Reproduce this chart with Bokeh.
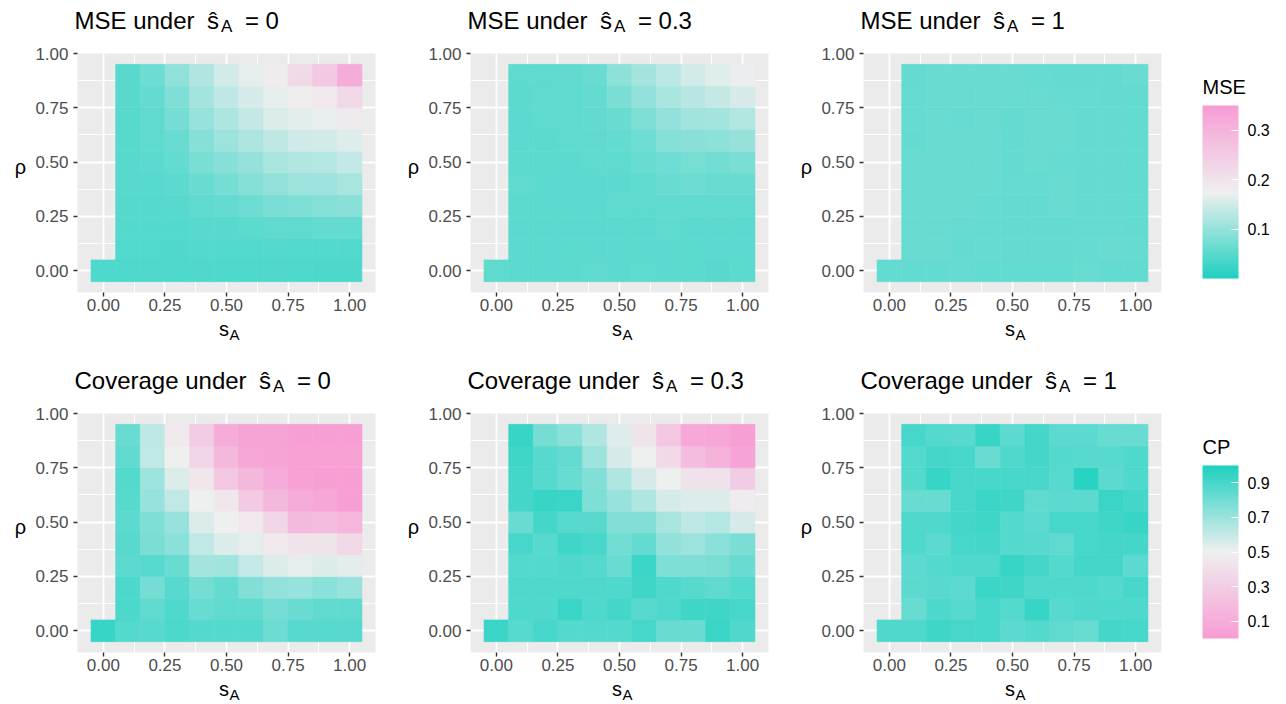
import numpy as np
from bokeh.plotting import figure
from bokeh.models import (ColumnDataSource, LinearColorMapper, ColorBar, FixedTicker,
                          Range1d, Label, PrintfTickFormatter, Title)
from bokeh.layouts import row, column
from bokeh.embed import file_html
from bokeh.resources import INLINE

# ---------------- data ----------------
S_A = [0.0, 0.1, 0.2, 0.3, 0.4, 0.5, 0.6, 0.7, 0.8, 0.9, 1.0]
RHO = [0.0, 0.1, 0.2, 0.3, 0.4, 0.5, 0.6, 0.7, 0.8, 0.9]
SHAT_LABELS = ["0", "0.3", "1"]

# rows ordered by rho (0.0 ... 0.9); rho=0 row has s_A = 0..1, other rows s_A = 0.1..1
MSE_SHAT_0 = [
    [0.042, 0.042, 0.043, 0.042, 0.043, 0.042, 0.042, 0.043, 0.042, 0.041, 0.041],
    [0.044, 0.045, 0.043, 0.046, 0.044, 0.045, 0.046, 0.045, 0.044, 0.044],
    [0.046, 0.046, 0.046, 0.049, 0.049, 0.051, 0.055, 0.056, 0.058, 0.060],
    [0.047, 0.047, 0.049, 0.055, 0.060, 0.066, 0.078, 0.082, 0.085, 0.090],
    [0.049, 0.049, 0.053, 0.064, 0.073, 0.085, 0.097, 0.104, 0.108, 0.115],
    [0.049, 0.052, 0.060, 0.077, 0.088, 0.101, 0.115, 0.124, 0.127, 0.137],
    [0.049, 0.054, 0.064, 0.088, 0.106, 0.119, 0.135, 0.148, 0.151, 0.160],
    [0.049, 0.056, 0.073, 0.102, 0.119, 0.139, 0.156, 0.166, 0.170, 0.185],
    [0.050, 0.060, 0.082, 0.113, 0.135, 0.154, 0.168, 0.180, 0.190, 0.223],
    [0.050, 0.066, 0.095, 0.122, 0.151, 0.167, 0.181, 0.219, 0.256, 0.315],
]
MSE_SHAT_03 = [
    [0.054, 0.053, 0.052, 0.053, 0.054, 0.053, 0.054, 0.052, 0.051, 0.050, 0.051],
    [0.052, 0.053, 0.051, 0.052, 0.053, 0.053, 0.052, 0.051, 0.052, 0.052],
    [0.052, 0.053, 0.053, 0.052, 0.052, 0.053, 0.054, 0.053, 0.053, 0.053],
    [0.053, 0.053, 0.053, 0.053, 0.054, 0.054, 0.056, 0.056, 0.054, 0.055],
    [0.055, 0.053, 0.053, 0.053, 0.053, 0.054, 0.063, 0.066, 0.063, 0.064],
    [0.053, 0.053, 0.053, 0.054, 0.054, 0.062, 0.067, 0.074, 0.071, 0.077],
    [0.053, 0.053, 0.054, 0.055, 0.060, 0.067, 0.085, 0.090, 0.092, 0.100],
    [0.053, 0.054, 0.054, 0.057, 0.064, 0.080, 0.097, 0.110, 0.113, 0.124],
    [0.053, 0.054, 0.054, 0.060, 0.077, 0.097, 0.115, 0.129, 0.139, 0.154],
    [0.054, 0.054, 0.056, 0.062, 0.092, 0.111, 0.132, 0.151, 0.162, 0.171],
]
MSE_SHAT_1 = [
    [0.060, 0.060, 0.060, 0.061, 0.060, 0.059, 0.058, 0.060, 0.063, 0.059, 0.060],
    [0.063, 0.062, 0.060, 0.061, 0.060, 0.059, 0.060, 0.061, 0.064, 0.061],
    [0.062, 0.063, 0.061, 0.061, 0.059, 0.059, 0.060, 0.061, 0.061, 0.060],
    [0.062, 0.063, 0.063, 0.061, 0.059, 0.059, 0.063, 0.060, 0.059, 0.060],
    [0.062, 0.062, 0.062, 0.063, 0.061, 0.061, 0.062, 0.059, 0.059, 0.059],
    [0.062, 0.062, 0.063, 0.062, 0.059, 0.062, 0.061, 0.059, 0.059, 0.059],
    [0.060, 0.062, 0.062, 0.062, 0.060, 0.063, 0.062, 0.060, 0.059, 0.059],
    [0.061, 0.062, 0.061, 0.062, 0.058, 0.062, 0.062, 0.060, 0.060, 0.059],
    [0.061, 0.062, 0.063, 0.064, 0.064, 0.062, 0.061, 0.061, 0.060, 0.060],
    [0.060, 0.062, 0.063, 0.062, 0.062, 0.061, 0.059, 0.060, 0.060, 0.063],
]
CP_SHAT_0 = [
    [0.94, 0.87, 0.86, 0.89, 0.87, 0.87, 0.87, 0.81, 0.86, 0.86, 0.86],
    [0.89, 0.84, 0.88, 0.82, 0.84, 0.84, 0.79, 0.82, 0.84, 0.84],
    [0.89, 0.79, 0.86, 0.79, 0.83, 0.76, 0.72, 0.71, 0.74, 0.71],
    [0.85, 0.86, 0.82, 0.68, 0.69, 0.60, 0.545, 0.52, 0.545, 0.53],
    [0.86, 0.78, 0.74, 0.61, 0.545, 0.52, 0.46, 0.43, 0.43, 0.36],
    [0.85, 0.77, 0.71, 0.545, 0.50, 0.46, 0.35, 0.18, 0.20, 0.15],
    [0.86, 0.71, 0.61, 0.50, 0.45, 0.27, 0.17, 0.09, 0.07, 0.02],
    [0.87, 0.70, 0.545, 0.45, 0.26, 0.17, 0.10, 0.03, 0.02, 0.02],
    [0.84, 0.61, 0.50, 0.34, 0.17, 0.07, 0.04, 0.03, 0.03, 0.03],
    [0.82, 0.62, 0.46, 0.29, 0.10, 0.04, 0.04, 0.02, 0.02, 0.02],
]
CP_SHAT_03 = [
    [0.93, 0.86, 0.90, 0.87, 0.87, 0.87, 0.90, 0.82, 0.82, 0.93, 0.88],
    [0.88, 0.88, 0.93, 0.88, 0.91, 0.86, 0.88, 0.92, 0.92, 0.90],
    [0.88, 0.88, 0.88, 0.88, 0.88, 0.92, 0.88, 0.86, 0.84, 0.87],
    [0.87, 0.87, 0.88, 0.87, 0.82, 0.93, 0.77, 0.77, 0.78, 0.82],
    [0.90, 0.86, 0.92, 0.90, 0.80, 0.83, 0.72, 0.70, 0.74, 0.78],
    [0.82, 0.91, 0.86, 0.86, 0.76, 0.76, 0.67, 0.62, 0.64, 0.56],
    [0.91, 0.94, 0.93, 0.77, 0.71, 0.65, 0.56, 0.545, 0.545, 0.48],
    [0.91, 0.86, 0.82, 0.76, 0.65, 0.56, 0.50, 0.42, 0.42, 0.29],
    [0.92, 0.86, 0.83, 0.70, 0.56, 0.50, 0.37, 0.20, 0.14, 0.05],
    [0.94, 0.79, 0.74, 0.65, 0.54, 0.43, 0.26, 0.08, 0.06, 0.02],
]
CP_SHAT_1 = [
    [0.88, 0.88, 0.92, 0.90, 0.90, 0.85, 0.87, 0.84, 0.82, 0.91, 0.90],
    [0.82, 0.89, 0.86, 0.90, 0.87, 0.94, 0.86, 0.88, 0.88, 0.88],
    [0.85, 0.86, 0.85, 0.93, 0.92, 0.88, 0.88, 0.88, 0.87, 0.90],
    [0.85, 0.87, 0.88, 0.88, 0.94, 0.91, 0.87, 0.91, 0.91, 0.85],
    [0.88, 0.85, 0.90, 0.91, 0.87, 0.86, 0.84, 0.90, 0.91, 0.91],
    [0.88, 0.88, 0.91, 0.92, 0.87, 0.85, 0.90, 0.90, 0.92, 0.94],
    [0.82, 0.82, 0.90, 0.93, 0.92, 0.84, 0.85, 0.85, 0.93, 0.91],
    [0.87, 0.94, 0.90, 0.90, 0.90, 0.90, 0.86, 0.97, 0.85, 0.88],
    [0.87, 0.91, 0.90, 0.82, 0.88, 0.91, 0.87, 0.86, 0.86, 0.88],
    [0.90, 0.87, 0.86, 0.94, 0.85, 0.91, 0.85, 0.85, 0.82, 0.82],
]

MSE_LIMITS = [0.0, 0.35]
CP_LIMITS = [0.0, 1.0]
MSE_BREAKS = [0.1, 0.2, 0.3]
CP_BREAKS = [0.1, 0.3, 0.5, 0.7, 0.9]
AXIS_BREAKS = [0.0, 0.25, 0.5, 0.75, 1.0]
AXIS_MINOR = [0.125, 0.375, 0.625, 0.875]

# ---------------- style ----------------
FONT = "Liberation Sans"
TEAL, MID, PINK = "#1ed1c1", "#efefef", "#f79cd4"
TITLE_PX = 24
TITLE_SUB_PX = 17
TICK_PX = 17
AXT_PX = 20
AXT_SUB_PX = 15

# geometry (pixels) - page has no margin
CELL_W = 393
RHO_W = 32          # strip holding the rho label
MAIN_BL = 42        # main figure left border (tick labels)
FW, FH = 309, 239   # panel frame
BR = 18
MAIN_BT, MAIN_BB = 12, 25
TITLE_H = 41
ROW1_H, ROW2_H = 360, 344
LEG_W = 1286 - 3 * CELL_W

# vertical placement of the text pieces inside their strips
TITLE_Y = 21
RHO_Y = MAIN_BB + FH / 2.0 - 19
XT_DROP = 36.5


def hex2rgb(h):
    h = h.lstrip("#")
    return np.array([int(h[i:i + 2], 16) for i in (0, 2, 4)], dtype=float)


def ramp(c_lo, c_mid, c_hi, n=256):
    a, b, c = hex2rgb(c_lo), hex2rgb(c_mid), hex2rgb(c_hi)
    out = []
    for t in np.linspace(0, 1, n):
        if t <= 0.5:
            col = a + (b - a) * (t / 0.5)
        else:
            col = b + (c - b) * ((t - 0.5) / 0.5)
        out.append("#%02x%02x%02x" % tuple(int(round(v)) for v in col))
    return out


mse_mapper = LinearColorMapper(palette=ramp(TEAL, MID, PINK), low=MSE_LIMITS[0], high=MSE_LIMITS[1])
cp_mapper = LinearColorMapper(palette=ramp(PINK, MID, TEAL), low=CP_LIMITS[0], high=CP_LIMITS[1])

ARIAL = {'M': 833, 'S': 667, 'E': 667, ' ': 278, 'u': 556, 'n': 556, 'd': 556, 'e': 556,
         'r': 333, 'C': 722, 'o': 556, 'v': 500, 'a': 556, 'g': 556, 's': 500, 'A': 667,
         '=': 584, '0': 556, '.': 278, '3': 556, '1': 556}


def tw(s, size):
    return sum(ARIAL.get(ch, 556) for ch in s) / 1000.0 * size


def cells(rows):
    xs, ys, vs = [], [], []
    for i, vals in enumerate(rows):
        s_list = S_A if len(vals) == len(S_A) else S_A[1:]
        for s, v in zip(s_list, vals):
            xs.append(s)
            ys.append(RHO[i])
            vs.append(v)
    return ColumnDataSource(dict(x=xs, y=ys, v=vs))


def lab(p, x, y, text, size, color="black", align="left", baseline="alphabetic"):
    p.add_layout(Label(x=x, y=y, x_units="screen", y_units="screen", text=text,
                       text_font=FONT, text_font_size="%spx" % size, text_color=color,
                       text_align=align, text_baseline=baseline))


def strip(width, height):
    f = figure(width=width, height=height, output_backend="svg", toolbar_location=None,
               x_axis_location=None, y_axis_location=None, min_border=0,
               x_range=Range1d(0, 1), y_range=Range1d(0, 1))
    f.outline_line_color = None
    f.background_fill_color = "white"
    f.border_fill_color = "white"
    f.grid.visible = False
    return f


def main_fig(rows, mapper):
    p = figure(width=CELL_W - RHO_W, height=MAIN_BT + FH + MAIN_BB, output_backend="svg",
               toolbar_location=None, x_range=Range1d(-0.105, 1.105),
               y_range=Range1d(-0.1, 1.0), min_border_left=MAIN_BL, min_border_right=BR,
               min_border_top=MAIN_BT, min_border_bottom=MAIN_BB)
    p.background_fill_color = "#ebebeb"
    p.border_fill_color = "white"
    p.outline_line_color = None
    src = cells(rows)
    p.rect(x="x", y="y", width=0.1, height=0.1, source=src,
           fill_color={"field": "v", "transform": mapper},
           line_color={"field": "v", "transform": mapper}, line_width=0.6)
    for ax in (p.xaxis[0], p.yaxis[0]):
        ax.ticker = FixedTicker(ticks=AXIS_BREAKS, minor_ticks=AXIS_MINOR)
        ax.formatter = PrintfTickFormatter(format="%.2f")
        ax.axis_line_color = None
        ax.major_tick_line_color = "#333333"
        ax.major_tick_line_width = 1.4
        ax.major_tick_out = 4
        ax.major_tick_in = 0
        ax.minor_tick_line_color = None
        ax.major_label_text_font = FONT
        ax.major_label_text_font_size = "%dpx" % TICK_PX
        ax.major_label_text_color = "#4d4d4d"
    p.xaxis[0].major_label_standoff = 2
    p.yaxis[0].major_label_standoff = 5
    for g in (p.xgrid[0], p.ygrid[0]):
        g.grid_line_color = "white"
        g.grid_line_width = 1.8
        g.minor_grid_line_color = "white"
        g.minor_grid_line_width = 0.9
    return p


def cell(rows, mapper, prefix, shat, row_h):
    frame_left = RHO_W + MAIN_BL
    # title strip
    t = strip(CELL_W, TITLE_H)
    x = frame_left
    lab(t, x, TITLE_Y, prefix, TITLE_PX)
    x += tw(prefix, TITLE_PX) + 12.5
    lab(t, x, TITLE_Y, "\u015d", TITLE_PX)
    x += 14
    lab(t, x, TITLE_Y - 5.5, "A", TITLE_SUB_PX)
    x += tw("A", TITLE_SUB_PX) + 12.5
    lab(t, x, TITLE_Y, "= " + shat, TITLE_PX)
    # rho strip + main panel
    main_h = MAIN_BT + FH + MAIN_BB
    r = strip(RHO_W, main_h)
    lab(r, RHO_W - 54 + MAIN_BL, RHO_Y, "\u03c1", AXT_PX, align="center")
    m = main_fig(rows, mapper)
    # x-axis title strip
    xh = row_h - TITLE_H - main_h
    b = strip(CELL_W, xh)
    wtot = tw("s", AXT_PX) + tw("A", AXT_SUB_PX)
    x0 = frame_left + FW / 2.0 - wtot / 2.0
    s_base = XT_DROP - MAIN_BB
    lab(b, x0, xh - s_base, "s", AXT_PX)
    lab(b, x0 + tw("s", AXT_PX) + 0.5, xh - s_base - 5, "A", AXT_SUB_PX)
    return column(t, row(r, m), b)


def legend_fig(mapper, title, breaks, height):
    f = figure(width=LEG_W, height=height, output_backend="svg", toolbar_location=None,
               x_axis_location=None, y_axis_location=None,
               min_border_top=100, min_border_left=18, min_border_right=0, min_border_bottom=0,
               x_range=Range1d(0, 1), y_range=Range1d(0, 1))
    f.title = Title(text=title, text_font=FONT, text_font_size="20px", text_font_style="normal",
                    text_color="black", align="left", offset=5, standoff=6)
    f.outline_line_color = None
    f.background_fill_color = "white"
    f.border_fill_color = "white"
    f.grid.visible = False
    cb = ColorBar(color_mapper=mapper, ticker=FixedTicker(ticks=breaks),
                  width=36, height=173, location="top_left", padding=0, margin=5,
                  major_label_text_font=FONT, major_label_text_font_size="16px",
                  major_label_text_color="black", label_standoff=9,
                  major_tick_line_color="white", major_tick_in=7, major_tick_out=0,
                  minor_tick_line_color=None, bar_line_color=None,
                  background_fill_color=None, border_line_color=None)
    f.add_layout(cb, "center")
    return f


mse_rows = [MSE_SHAT_0, MSE_SHAT_03, MSE_SHAT_1]
cp_rows = [CP_SHAT_0, CP_SHAT_03, CP_SHAT_1]

top = [cell(r, mse_mapper, "MSE under", s, ROW1_H) for r, s in zip(mse_rows, SHAT_LABELS)]
bot = [cell(r, cp_mapper, "Coverage under", s, ROW2_H) for r, s in zip(cp_rows, SHAT_LABELS)]

leg1 = legend_fig(mse_mapper, "MSE", MSE_BREAKS, ROW1_H)
leg2 = legend_fig(cp_mapper, "CP", CP_BREAKS, ROW2_H)

layout = column(row(*top, leg1), row(*bot, leg2))

open("out.html", "w").write(file_html(layout, INLINE))
